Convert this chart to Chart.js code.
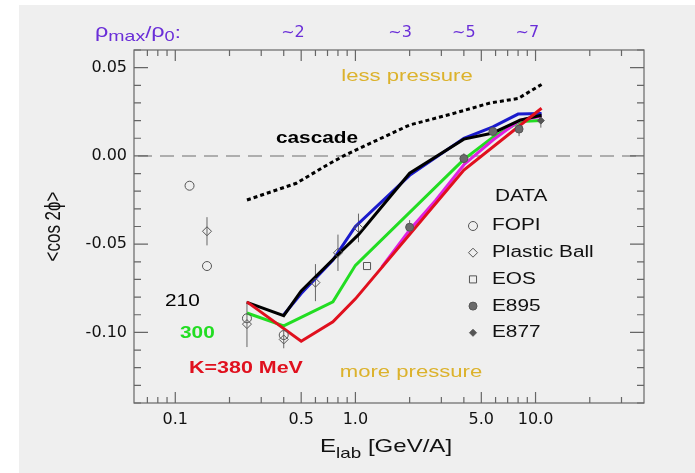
<!DOCTYPE html>
<html>
<head>
<meta charset="utf-8">
<script src="https://cdn.jsdelivr.net/npm/chart.js@4.4.1/dist/chart.umd.min.js"></script>
<style>
  html, body { margin: 0; padding: 0; background: #efefef; }
  #wrap { width: 695px; height: 473px; position: relative; }
</style>
</head>
<body>
<div id="wrap"><canvas id="chart" width="695" height="473"></canvas></div>
<script>
// axis limits and ticks
const xMin = 0.059, xMax = 40;
const yMin = -0.14, yMax = 0.06;
const xTickVals = [0.1, 0.5, 1, 5, 10];
const xTickLabels = ['0.1', '0.5', '1.0', '5.0', '10.0'];
const xMinorVals = [0.07, 0.08, 0.09, 0.2, 0.3, 0.4, 0.6, 0.7, 0.8, 0.9, 2, 3, 4, 6, 7, 8, 9, 20, 30];
const yTickVals = [-0.10, -0.05, 0.00, 0.05];
const rhoE = [0.45, 1.77, 4.0, 9.0];
const rhoLabels = ['~2', '~3', '~5', '~7'];

// model curves [E, <cos 2phi>]
const cascadeE = [0.25, 0.47, 0.7, 0.86, 1.2, 2.0, 3.35, 5.6, 8.0, 10.8];
const cascadeV = [-0.025, -0.0155, -0.005, 0.0, 0.007, 0.0175, 0.0235, 0.030, 0.0325, 0.0405];
const k210E = [0.25, 0.4, 0.5, 0.75, 1.04, 2.0, 4.0, 5.8, 8.2, 10.8];
const k210V = [-0.083, -0.0905, -0.0765, -0.0587, -0.0446, -0.0098, 0.0095, 0.013, 0.0203, 0.023];
const blueE = [0.4, 0.5, 0.75, 1.0, 2.0, 4.0, 5.8, 8.0, 10.8];
const blueV = [-0.090, -0.078, -0.059, -0.040, -0.011, 0.010, 0.0165, 0.0237, 0.024];
const k300E = [0.25, 0.4, 0.75, 1.0, 4.0, 5.8, 8.2, 10.8];
const k300V = [-0.089, -0.0963, -0.0827, -0.062, -0.002, 0.0105, 0.0195, 0.020];
const k380E = [0.25, 0.5, 0.75, 1.0, 4.0, 10.8];
const k380V = [-0.0827, -0.105, -0.094, -0.081, -0.008, 0.027];
const magE = [1.4, 2.0, 2.8, 4.0, 5.8, 8.2, 10.8];
const magV = [-0.063, -0.042, -0.025, -0.005, 0.009, 0.0203, 0.0225];

// data points
const fopiE = [0.12, 0.15, 0.25, 0.4];
const fopiV = [-0.0169, -0.0624, -0.092, -0.1015];
const fopiErr = [0, 0, 0, 0];
const pbE = [0.15, 0.25, 0.4, 0.6, 0.8, 1.04];
const pbV = [-0.0427, -0.0953, -0.104, -0.0718, -0.0549, -0.0408];
const pbErr = [0.008, 0.013, 0.005, 0.0105, 0.0103, 0.0081];
const eosE = [1.16];
const eosV = [-0.0624];
const eosErr = [0];
const e895E = [2.0, 4.0, 5.8, 8.1];
const e895V = [-0.0404, -0.0015, 0.0138, 0.0152];
const e895Err = [0.004, 0.003, 0.002, 0.004];
const e877E = [10.7];
const e877V = [0.020];
const e877Err = [0.004];

const pts = (xs, ys) => xs.map((x, i) => ({ x: x, y: ys[i] }));

const FONT = "'Liberation Sans', Arial, sans-serif";
const SX = 1.3; // the reference text is horizontally stretched

function sText(ctx, txt, x, y, size, color, opts) {
    opts = opts || {};
    ctx.save();
    ctx.font = (opts.bold ? 'bold ' : '') + size + 'px ' + FONT;
    ctx.fillStyle = color;
    const w = ctx.measureText(txt).width * SX;
    let x0 = x;
    if (opts.align === 'center') x0 = x - w / 2;
    if (opts.align === 'right') x0 = x - w;
    ctx.translate(x0, y);
    ctx.scale(SX, 1);
    ctx.textBaseline = opts.baseline || 'middle';
    ctx.textAlign = 'left';
    ctx.fillText(txt, 0, 0);
    ctx.restore();
    return w;
}

const modelLine = (label, xs, ys, color, order, dash) => ({
    label: label, data: pts(xs, ys), showLine: true, borderColor: color,
    borderWidth: 3, pointRadius: 0, borderDash: dash || [], order: order, fill: false,
    tension: 0
});

const dataSet = (label, xs, ys, errs, style, fill, radius) => ({
    label: label, data: pts(xs, ys), showLine: false, errs: errs,
    pointStyle: style, pointRadius: radius, pointBackgroundColor: fill,
    pointBorderColor: '#555', pointBorderWidth: 1, order: 0
});

const datasets = [
    modelLine('cascade', cascadeE, cascadeV, '#000', 6, [4, 3]),
    modelLine('300', k300E, k300V, '#22dd22', 5),
    modelLine('magenta', magE, magV, '#e020e0', 4),
    modelLine('blue', blueE, blueV, '#1a1acc', 3),
    modelLine('210', k210E, k210V, '#000', 2),
    modelLine('K=380 MeV', k380E, k380V, '#e0101e', 1),
    dataSet('FOPI', fopiE, fopiV, fopiErr, 'circle', 'rgba(0,0,0,0)', 4.5),
    dataSet('Plastic Ball', pbE, pbV, pbErr, 'rectRot', 'rgba(0,0,0,0)', 4.5),
    dataSet('EOS', eosE, eosV, eosErr, 'rect', 'rgba(0,0,0,0)', 5),
    dataSet('E895', e895E, e895V, e895Err, 'circle', '#6a6a6a', 4),
    dataSet('E877', e877E, e877V, e877Err, 'rectRot', '#555', 3.5)
];

// frame, inward ticks, zero line, error bars, texts
const decor = {
    id: 'decor',
    beforeDraw(chart) {
        const ctx = chart.ctx;
        ctx.save();
        ctx.fillStyle = '#efefef';
        ctx.fillRect(0, 0, chart.width, chart.height);
        ctx.fillStyle = '#ffffff';
        ctx.fillRect(0, 0, 19, chart.height);
        ctx.fillRect(0, 0, chart.width, 5);
        ctx.restore();
    },
    beforeDatasetsDraw(chart) {
        const ctx = chart.ctx, a = chart.chartArea, y = chart.scales.y;
        ctx.save();
        ctx.strokeStyle = '#999';
        ctx.lineWidth = 1.5;
        ctx.setLineDash([14, 8]);
        const y0 = y.getPixelForValue(0);
        ctx.beginPath();
        ctx.moveTo(a.left + 4, y0);
        ctx.lineTo(a.right, y0);
        ctx.stroke();
        ctx.restore();

        // error bars
        const x = chart.scales.x;
        ctx.save();
        ctx.strokeStyle = '#666';
        ctx.lineWidth = 1;
        chart.data.datasets.forEach(ds => {
            if (!ds.errs) return;
            ds.data.forEach((p, i) => {
                const e = ds.errs[i];
                if (!e) return;
                const px = x.getPixelForValue(p.x);
                ctx.beginPath();
                ctx.moveTo(px, y.getPixelForValue(p.y + e));
                ctx.lineTo(px, y.getPixelForValue(p.y - e));
                ctx.stroke();
            });
        });
        ctx.restore();
    },
    afterDatasetsDraw(chart) {
        const ctx = chart.ctx, a = chart.chartArea;
        const x = chart.scales.x, y = chart.scales.y;
        ctx.save();
        ctx.strokeStyle = '#666';
        ctx.lineWidth = 1.2;
        ctx.strokeRect(a.left, a.top, a.right - a.left, a.bottom - a.top);
        ctx.beginPath();
        const xt = (v, len) => {
            const px = x.getPixelForValue(v);
            ctx.moveTo(px, a.bottom); ctx.lineTo(px, a.bottom - len);
            ctx.moveTo(px, a.top); ctx.lineTo(px, a.top + len);
        };
        xTickVals.forEach(v => xt(v, 11));
        xMinorVals.forEach(v => xt(v, 6));
        for (let k = -14; k <= 6; k++) {
            const v = k / 100;
            const len = (k % 5 === 0) ? 14 : 7;
            const py = y.getPixelForValue(v);
            ctx.moveTo(a.left, py); ctx.lineTo(a.left + len, py);
            ctx.moveTo(a.right, py); ctx.lineTo(a.right - len, py);
        }
        ctx.stroke();
        ctx.restore();

        // legend
        sText(ctx, 'DATA', 495, 197, 16, '#111');
        const legendSets = chart.data.datasets.filter(d => d.errs);
        legendSets.forEach((ds, i) => {
            const ly = 226 + i * 26.7;
            ctx.save();
            ctx.fillStyle = ds.pointBackgroundColor;
            ctx.strokeStyle = ds.pointBorderColor;
            ctx.lineWidth = 1;
            Chart.helpers.drawPoint(ctx, { pointStyle: ds.pointStyle, radius: ds.pointRadius, borderWidth: 1, rotation: 0 }, 473, ly);
            ctx.restore();
            sText(ctx, ds.label, 492, ly, 16, '#111');
        });

        // annotations
        sText(ctx, 'less pressure', 407, 76, 17, '#dcb22c', { align: 'center' });
        sText(ctx, 'more pressure', 411, 372, 17, '#dcb22c', { align: 'center' });
        sText(ctx, 'cascade', 317, 139, 16, '#000', { align: 'center', bold: true });
        sText(ctx, '210', 165, 302, 16, '#000');
        sText(ctx, '300', 180, 334, 16, '#22dd22', { bold: true });
        sText(ctx, 'K=380 MeV', 189, 368, 16.5, '#e0101e', { bold: true });

        // rho_max / rho_0 heading
        const purple = '#6a2ed8';
        let cx = 95;
        cx += sText(ctx, 'ρ', cx, 37, 18, purple, { baseline: 'alphabetic' });
        cx += sText(ctx, 'max', cx, 41, 15, purple, { baseline: 'alphabetic' });
        cx += sText(ctx, '/', cx, 38, 17, purple, { baseline: 'alphabetic' });
        cx += sText(ctx, 'ρ', cx, 37, 18, purple, { baseline: 'alphabetic' });
        cx += sText(ctx, '0', cx, 41, 14, purple, { baseline: 'alphabetic' });
        sText(ctx, ':', cx, 38, 17, purple, { baseline: 'alphabetic' });

        // y title
        ctx.save();
        ctx.translate(54, (a.top + a.bottom) / 2);
        ctx.scale(SX, 1);
        ctx.rotate(-Math.PI / 2);
        ctx.font = '17px ' + FONT;
        ctx.fillStyle = '#111';
        ctx.textAlign = 'center';
        ctx.textBaseline = 'middle';
        ctx.fillText('<cos 2ϕ>', 0, 0);
        ctx.restore();

        // x title
        let tx = 320;
        tx += sText(ctx, 'E', tx, 452, 18.5, '#111', { baseline: 'alphabetic' });
        tx += sText(ctx, 'lab', tx, 458, 14.5, '#111', { baseline: 'alphabetic' });
        sText(ctx, ' [GeV/A]', tx, 452, 18.5, '#111', { baseline: 'alphabetic' });
    }
};

new Chart(document.getElementById('chart'), {
    type: 'scatter',
    data: { datasets: datasets },
    options: {
        responsive: false,
        animation: false,
        layout: { padding: { left: 0, right: 51, top: 0, bottom: 0 } },
        plugins: { legend: { display: false }, tooltip: { enabled: false } },
        scales: {
            x: {
                type: 'logarithmic', position: 'bottom', min: xMin, max: xMax,
                grid: { display: false, drawTicks: false },
                border: { display: false },
                afterBuildTicks: s => { s.ticks = xTickVals.map(v => ({ value: v })); },
                afterFit: s => { s.height = 70; },
                ticks: {
                    autoSkip: false, maxRotation: 0, padding: 7, color: '#111',
                    font: { family: "'DejaVu Sans'", size: 16 },
                    callback: (v, i) => xTickLabels[i]
                }
            },
            x2: {
                type: 'logarithmic', position: 'top', min: xMin, max: xMax,
                grid: { display: false, drawTicks: false },
                border: { display: false },
                afterBuildTicks: s => { s.ticks = rhoE.map(v => ({ value: v })); },
                afterFit: s => { s.height = 50; },
                ticks: {
                    autoSkip: false, maxRotation: 0, padding: 8, color: '#6a2ed8',
                    font: { family: "'DejaVu Sans'", size: 16 },
                    callback: (v, i) => rhoLabels[i]
                }
            },
            y: {
                type: 'linear', min: yMin, max: yMax,
                grid: { display: false, drawTicks: false },
                border: { display: false },
                afterBuildTicks: s => { s.ticks = yTickVals.map(v => ({ value: v })); },
                afterFit: s => { s.width = 134; },
                ticks: {
                    padding: 7, color: '#111',
                    font: { family: "'DejaVu Sans'", size: 16 },
                    callback: v => v.toFixed(2)
                }
            }
        }
    },
    plugins: [decor]
});
</script>
</body>
</html>
